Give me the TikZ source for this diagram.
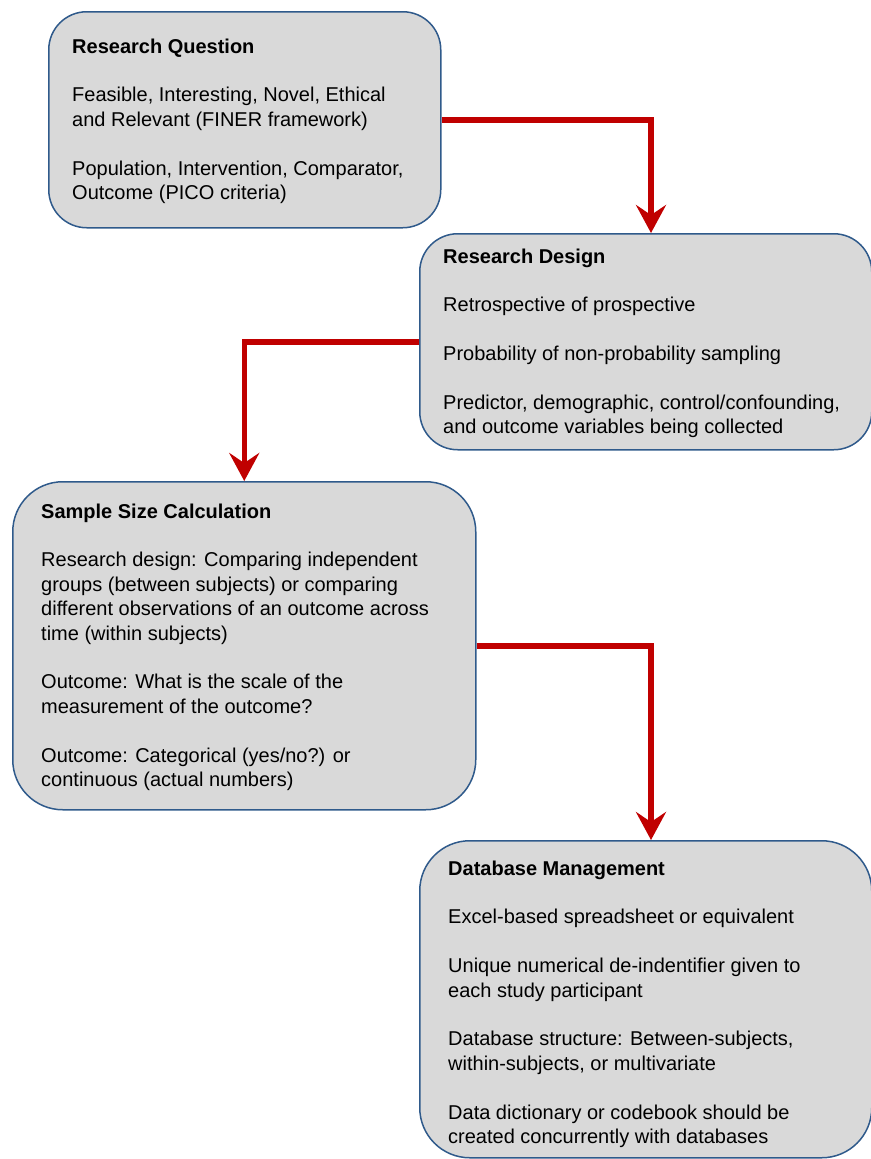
\documentclass[tikz,border=0pt]{standalone}
\usepackage{fontspec}
\setmainfont{Liberation Sans}
\usetikzlibrary{arrows.meta,calc}
\definecolor{boxfill}{HTML}{D9D9D9}
\definecolor{boxline}{HTML}{2F5A8B}
\definecolor{arrred}{HTML}{C00000}
\newcommand{\boxbody}[1]{\parbox[t]{420pt}{\fontsize{20}{24.4}\selectfont\raggedright #1}}
\begin{document}
\begin{tikzpicture}[x=1pt,y=-1pt,
  box/.style={draw=boxline, fill=boxfill, line width=1.5pt, anchor=north west, inner sep=0pt},
  txt/.style={anchor=base west, inner sep=0pt},
  arr/.style={draw=arrred, line width=5.5pt, line join=miter,
    -{Stealth[length=28pt, width=30pt, inset=10pt, fill=arrred]}}
]
\useasboundingbox (0,0) rectangle (870,1159);
% boxes
\node[box, minimum width=392pt, minimum height=216pt, rounded corners=38pt] (rq) at (48,11) {};
\node[box, minimum width=452pt, minimum height=216pt, rounded corners=38pt] (rd) at (419,233) {};
\node[box, minimum width=463pt, minimum height=328pt, rounded corners=50pt] (ss) at (12,481) {};
\node[box, minimum width=452pt, minimum height=317pt, rounded corners=50pt] (dm) at (419,840) {};
% texts
\node[txt] (rqt) at (72,53) {\boxbody{\textbf{Research Question}\\[24.4pt]
Feasible, Interesting, Novel, Ethical\\
and Relevant (FINER framework)\\[24.4pt]
Population, Intervention, Comparator,\\
Outcome (PICO criteria)}};
\node[txt] (rdt) at (443,263) {\boxbody{\textbf{Research Design}\\[24.4pt]
Retrospective of prospective\\[24.4pt]
Probability of non-probability sampling\\[24.4pt]
Predictor, demographic, control/confounding,\\
and outcome variables being collected}};
\node[txt] (sst) at (41,518) {\boxbody{\textbf{Sample Size Calculation}\\[24.4pt]
Research design: Comparing independent\\
groups (between subjects) or comparing\\
different observations of an outcome across\\
time (within subjects)\\[24.4pt]
Outcome: What is the scale of the\\
measurement of the outcome?\\[24.4pt]
Outcome: Categorical (yes/no?) or\\
continuous (actual numbers)}};
\node[txt] (dmt) at (448,875) {\boxbody{\textbf{Database Management}\\[24.4pt]
Excel-based spreadsheet or equivalent\\[24.4pt]
Unique numerical de-indentifier given to\\
each study participant\\[24.4pt]
Database structure: Between-subjects,\\
within-subjects, or multivariate\\[24.4pt]
Data dictionary or codebook should be\\
created concurrently with databases}};
% arrows
\draw[arr] (rq.east) -| ($(rd.north west)+(232,0)$);
\draw[arr] (rd.west) -| (ss.north);
\draw[arr] (ss.east) -| ($(dm.north west)+(232,0)$);
\end{tikzpicture}
\end{document}
